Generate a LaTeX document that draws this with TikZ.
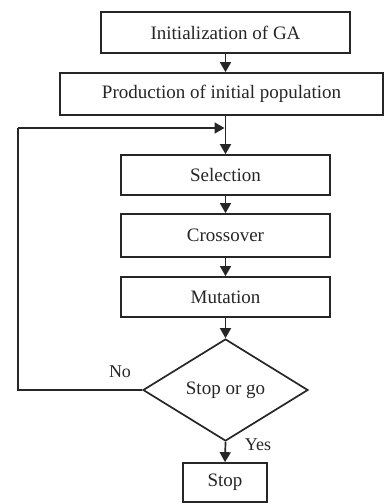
\documentclass[tikz,border=0pt]{standalone}
\usepackage{fontspec}
\setmainfont{Liberation Serif}
\usetikzlibrary{shapes.geometric,arrows.meta}
\begin{document}
\begin{tikzpicture}[x=1pt,y=-1pt,
  every node/.style={font=\fontsize{19}{22}\selectfont, text=black!85},
  stepbox/.style={draw=black!85, line width=1.7pt, inner sep=0pt},
  decide/.style={draw=black!85, line width=1.7pt, diamond, inner sep=0pt, aspect=1.6},
  conn/.style={draw=black!85, line width=1.7pt, -{Triangle[width=11pt,length=10pt]}},
  plain/.style={draw=black!85, line width=1.7pt},
  lbl/.style={font=\fontsize{18}{22}\selectfont}]
\useasboundingbox[fill=white] (0,0) rectangle (385,504);
\node[stepbox, minimum width=249pt, minimum height=41pt] (init) at (225.5,32.5) {Initialization of GA};
\node[stepbox, minimum width=323pt, minimum height=42pt] (prod) at (221.5,94) {Production of initial population};
\node[stepbox, minimum width=209pt, minimum height=40pt] (sel) at (225.5,175) {Selection};
\node[stepbox, minimum width=209pt, minimum height=43pt] (cross) at (225.5,235.5) {Crossover};
\node[stepbox, minimum width=209pt, minimum height=40pt] (mut) at (225.5,297) {Mutation};
\node[decide, minimum width=165pt, minimum height=102pt] (dec) at (225.5,390) {Stop or go};
\node[stepbox, minimum width=84pt, minimum height=39pt] (stop) at (225,482.5) {Stop};
\coordinate (join) at (225.5,128);
\coordinate (lb) at (18,390);
\coordinate (lt) at (18,128);
\draw[conn] (init.south) -- (init.south |- prod.north);
\draw[conn] (prod.south -| sel.north) -- (sel.north);
\draw[conn] (sel.south) -- (cross.north);
\draw[conn] (cross.south) -- (mut.north);
\draw[conn] (mut.south) -- (dec.north);
\draw[conn] (dec.south) -- (stop.north);
\draw[plain] (dec.west) -- (lb) -- (lt);
\draw[conn] (lt) -- ([xshift=-1pt]join);
\node[lbl] (no) at (120,372) {No};
\node[lbl] (yes) at (258,445) {Yes};
\end{tikzpicture}
\end{document}
